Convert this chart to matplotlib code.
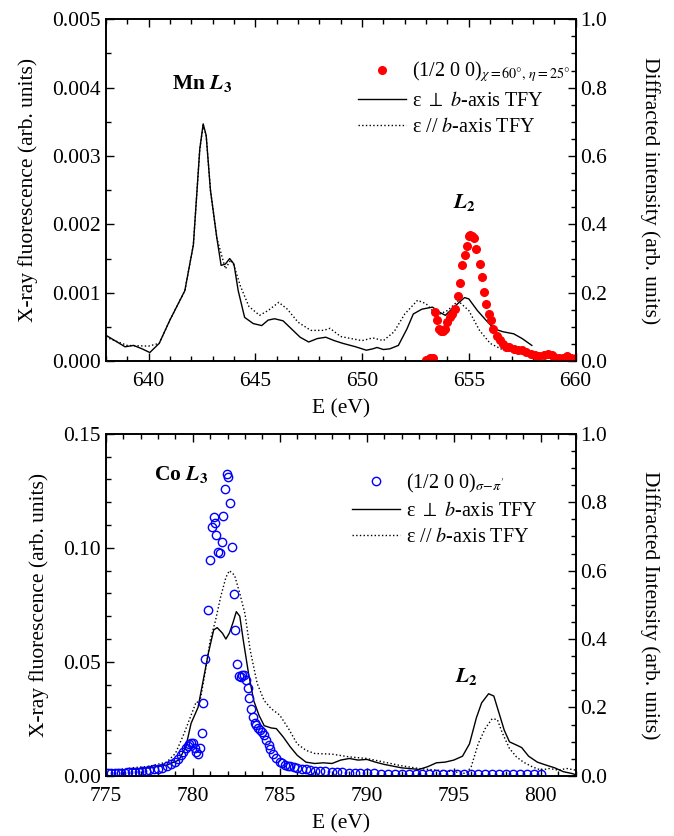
import numpy as np
import matplotlib
matplotlib.use('Agg')
import matplotlib.pyplot as plt
from matplotlib.ticker import MultipleLocator, FormatStrFormatter

plt.rcParams['font.family'] = ['Liberation Serif', 'DejaVu Serif']
plt.rcParams['mathtext.fontset'] = 'stix'
plt.rcParams['font.size'] = 15.5

# ---- Mn L edge (top panel) ----
mn_perp_e = [638.0, 638.9, 639.3, 639.7, 640.06, 640.5, 641.0, 641.7, 642.1, 642.4, 642.56, 642.7,
             642.9, 643.2, 643.4, 643.6, 643.8, 644.0, 644.2, 644.5, 644.9, 645.3, 645.6, 645.9,
             646.3, 646.7, 647.1, 647.5, 647.9, 648.3, 648.7, 649.1, 649.7, 650.2, 650.5, 650.7,
             651.0, 651.3, 651.7, 652.1, 652.4, 652.8, 653.3, 653.6, 653.9, 654.3, 654.8, 655.0,
             655.4, 655.8, 656.2, 656.6, 657.1, 657.5, 657.95]
mn_perp_i = [0.00038, 0.00021, 0.00023, 0.00018, 0.000126, 0.00026, 0.0006, 0.00103, 0.0017, 0.0031,
             0.00347, 0.0033, 0.0025, 0.0018, 0.0014, 0.00142, 0.0015, 0.00142, 0.00103, 0.00064,
             0.00055, 0.00052, 0.0006, 0.00062, 0.00059, 0.00047, 0.00035, 0.00028, 0.00033, 0.00035,
             0.0003, 0.00026, 0.00021, 0.00016, 0.00018, 0.0002, 0.00017, 0.00018, 0.00023, 0.00047,
             0.00069, 0.00076, 0.00079, 0.00072, 0.00067, 0.00079, 0.00093, 0.00091, 0.00074, 0.0006,
             0.00047, 0.00043, 0.0004, 0.00033, 0.00023]

mn_par_e = [638.0, 639.0, 640.0, 640.5, 641.0, 641.7, 642.1, 642.4, 642.56, 642.7, 642.9, 643.2,
            643.6, 643.85, 644.0, 644.3, 644.7, 645.2, 645.6, 646.1, 646.5, 647.0, 647.6, 648.2,
            648.5, 649.0, 650.0, 650.5, 651.0, 651.5, 652.0, 652.6, 653.0, 653.5, 654.0, 654.5,
            655.0, 655.5, 656.0, 656.5, 657.0]
mn_par_i = [0.00035, 0.00023, 0.00022, 0.00026, 0.0006, 0.00103, 0.0017, 0.0031, 0.00345, 0.0033,
            0.0025, 0.0018, 0.00135, 0.00148, 0.0014, 0.0011, 0.0008, 0.00067, 0.00074, 0.00086,
            0.00076, 0.00057, 0.00045, 0.00045, 0.00048, 0.00036, 0.0003, 0.00034, 0.0003, 0.00043,
            0.00069, 0.00089, 0.00084, 0.00067, 0.00074, 0.00088, 0.00074, 0.00045, 0.00026,
            0.00018, 0.00014]

mn_res_e = [653.0, 653.2, 653.3, 653.4, 653.5, 653.6, 653.7, 653.8, 653.9, 654.0, 654.1, 654.2,
            654.35, 654.5, 654.6, 654.7, 654.8, 654.9, 655.0, 655.05, 655.15, 655.25, 655.35,
            655.5, 655.6, 655.7, 655.8, 655.95, 656.05, 656.15, 656.3, 656.45, 656.6, 656.75,
            656.9, 657.1, 657.3, 657.5, 657.7, 657.9, 658.1, 658.3, 658.5, 658.7, 658.9, 659.0,
            659.2, 659.4, 659.6, 659.8, 660.0]
mn_res_i = [0.003, 0.008, 0.01, 0.143, 0.12, 0.095, 0.087, 0.088, 0.095, 0.114, 0.129, 0.138,
            0.153, 0.19, 0.23, 0.28, 0.31, 0.337, 0.366, 0.37, 0.366, 0.36, 0.327, 0.284, 0.245,
            0.203, 0.168, 0.138, 0.119, 0.095, 0.075, 0.061, 0.05, 0.042, 0.04, 0.037, 0.034,
            0.032, 0.027, 0.022, 0.017, 0.015, 0.017, 0.022, 0.017, 0.013, 0.008, 0.01, 0.015,
            0.01, 0.008]

# ---- Co L edge (bottom panel) ----
co_perp_e = [776.5, 777.5, 778.5, 779.2, 779.6, 779.9, 780.3, 780.6, 780.9, 781.2, 781.4, 781.7,
             781.9, 782.1, 782.3, 782.5, 782.7, 782.9, 783.2, 783.5, 783.8, 784.1, 784.5, 784.8,
             785.2, 785.6, 786.0, 786.5, 787.0, 787.5, 788.0, 788.5, 789.0, 789.5, 790.0, 790.5,
             791.0, 792.0, 793.0, 793.5, 794.0, 794.5, 795.0, 795.5, 795.9, 796.3, 796.6, 797.0,
             797.3, 797.6, 797.9, 798.2, 798.6, 798.9, 799.3, 799.8, 800.3, 800.8, 801.3, 801.8,
             802.0]
co_perp_i = [0.0028, 0.0035, 0.0047, 0.0069, 0.0127, 0.023, 0.030, 0.042, 0.054, 0.064, 0.065,
             0.0626, 0.060, 0.0626, 0.067, 0.072, 0.070, 0.0595, 0.045, 0.033, 0.0266, 0.022,
             0.021, 0.0207, 0.017, 0.0127, 0.009, 0.006, 0.0054, 0.0057, 0.0054, 0.0069, 0.0076,
             0.0069, 0.0072, 0.006, 0.005, 0.0035, 0.0028, 0.004, 0.0057, 0.006, 0.0069, 0.0086,
             0.014, 0.0255, 0.032, 0.036, 0.035, 0.0275, 0.020, 0.0149, 0.0135, 0.0124, 0.0086,
             0.006, 0.0047, 0.0035, 0.0018, 0.001, 0.0005]

co_par_e = [775.5, 776.5, 777.5, 778.5, 779.0, 779.5, 779.9, 780.2, 780.4, 780.7, 781.0, 781.3,
            781.6, 781.9, 782.1, 782.4, 782.7, 783.0, 783.3, 783.7, 784.1, 784.5, 785.0, 785.5,
            786.0, 786.5, 787.0, 788.0, 789.0, 790.0, 791.0, 792.0, 793.0, 794.0, 795.0, 795.7,
            796.0, 796.4, 796.8, 797.2, 797.5, 797.8, 798.2, 798.6, 799.0, 799.5, 800.0, 800.5,
            801.0, 801.5, 802.0]
co_par_i = [0.0025, 0.0035, 0.0042, 0.006, 0.0098, 0.0186, 0.0266, 0.0325, 0.032, 0.045, 0.0595,
            0.068, 0.0785, 0.087, 0.090, 0.088, 0.080, 0.071, 0.055, 0.0405, 0.033, 0.0295,
            0.0266, 0.0207, 0.014, 0.0112, 0.0098, 0.0095, 0.0083, 0.0076, 0.006, 0.0044, 0.0032,
            0.0025, 0.0018, 0.001, 0.004, 0.014, 0.0207, 0.025, 0.0247, 0.0186, 0.012, 0.0083,
            0.006, 0.004, 0.0025, 0.0032, 0.0025, 0.0032, 0.0025]

co_res_e = [775.1, 775.3, 775.5, 775.7, 775.9, 776.1, 776.3, 776.5, 776.7, 776.9, 777.1, 777.3,
            777.5, 777.75, 778.0, 778.25, 778.5, 778.75, 779.0, 779.15, 779.3, 779.45, 779.6,
            779.7, 779.8, 779.9, 780.0, 780.1, 780.2, 780.3, 780.4, 780.5, 780.6, 780.7, 780.9,
            781.0, 781.1, 781.2, 781.25, 781.35, 781.45, 781.55, 781.65, 781.75, 781.85, 781.95,
            782.05, 782.15, 782.25, 782.35, 782.45, 782.55, 782.65, 782.75, 782.85, 782.95,
            783.05, 783.15, 783.25, 783.35, 783.45, 783.55, 783.65, 783.75, 783.85, 783.95,
            784.1, 784.2, 784.35, 784.45, 784.6, 784.8, 785.0, 785.15, 785.3, 785.45, 785.6,
            785.8, 786.0, 786.25, 786.5, 786.75, 787.0, 787.3, 787.6, 788.0, 788.3, 788.6,
            789.0, 789.3, 789.6, 790.0, 790.4, 790.8, 791.2, 791.6, 792.0, 792.4, 792.8, 793.2,
            793.6, 794.0, 794.4, 794.8, 795.2, 795.6, 796.0, 796.4, 796.8, 797.2, 797.6, 798.0,
            798.4, 798.8, 799.2, 799.6, 800.0]
co_res_i = [0.008, 0.007, 0.009, 0.008, 0.008, 0.009, 0.010, 0.010, 0.011, 0.012, 0.013, 0.015,
            0.017, 0.019, 0.021, 0.024, 0.028, 0.034, 0.041, 0.050, 0.060, 0.070, 0.080, 0.088,
            0.094, 0.097, 0.096, 0.080, 0.070, 0.065, 0.080, 0.124, 0.213, 0.343, 0.484, 0.632,
            0.727, 0.757, 0.740, 0.703, 0.654, 0.651, 0.683, 0.760, 0.840, 0.882, 0.874, 0.797,
            0.668, 0.532, 0.425, 0.328, 0.291, 0.289, 0.294, 0.294, 0.281, 0.258, 0.228, 0.194,
            0.172, 0.155, 0.148, 0.141, 0.135, 0.129, 0.119, 0.104, 0.090, 0.077, 0.063, 0.051,
            0.041, 0.037, 0.033, 0.030, 0.028, 0.025, 0.023, 0.021, 0.019, 0.017, 0.015, 0.014,
            0.013, 0.012, 0.011, 0.010, 0.009, 0.009, 0.008, 0.007, 0.007, 0.006, 0.006, 0.006,
            0.005, 0.005, 0.005, 0.005, 0.005, 0.005, 0.005, 0.005, 0.005, 0.005, 0.005, 0.005,
            0.005, 0.006, 0.005, 0.005, 0.005, 0.005, 0.005, 0.005, 0.005]


def style_axes(ax, ax2, xmaj, xmin, ymaj, ymin):
    ax.xaxis.set_major_locator(MultipleLocator(xmaj))
    ax.xaxis.set_minor_locator(MultipleLocator(xmin))
    ax.yaxis.set_major_locator(MultipleLocator(ymaj))
    ax.yaxis.set_minor_locator(MultipleLocator(ymin))
    ax2.yaxis.set_major_locator(MultipleLocator(0.2))
    ax2.yaxis.set_minor_locator(MultipleLocator(0.05))
    ax.tick_params(which='both', direction='in', top=True, right=False, width=1.0, labelsize=15.5)
    ax.tick_params(axis='x', which='major', pad=8)
    ax.tick_params(which='major', length=6)
    ax.tick_params(which='minor', length=3.5)
    ax2.tick_params(which='both', direction='in', width=1.0, labelsize=15.5)
    ax2.tick_params(which='major', length=6)
    ax2.tick_params(which='minor', length=3.5)
    for a in (ax, ax2):
        for s in a.spines.values():
            s.set_linewidth(1.2)


fig = plt.figure(figsize=(6.74, 8.36), dpi=100)

# top panel
ax1 = fig.add_axes([0.157, 0.568, 0.697, 0.409])
ax1r = ax1.twinx()
l1, = ax1.plot(mn_perp_e, mn_perp_i, 'k-', lw=1.0, label=r'ε $\perp$ $b$-axis TFY')
l2, = ax1.plot(mn_par_e, mn_par_i, 'k:', lw=1.0, label=r'ε // $b$-axis TFY')
p1, = ax1r.plot(mn_res_e, mn_res_i, 'o', color='red', ms=5.5, mec='red',
                label=r'(1/2 0 0)$_{\chi{=}60°,\,\eta{=}25°}$')
ax1.set_xlim(638, 660)
ax1.set_ylim(0, 0.005)
ax1r.set_ylim(0, 1.0)
style_axes(ax1, ax1r, 5, 1, 0.001, 0.0005)
ax1.yaxis.set_major_formatter(FormatStrFormatter('%.3f'))
ax1r.yaxis.set_major_formatter(FormatStrFormatter('%.1f'))
ax1.set_xlabel('E (eV)', fontsize=15.5, labelpad=6)
ax1.set_ylabel('X-ray fluorescence (arb. units)', fontsize=15.5, labelpad=10)
ax1r.set_ylabel('Diffracted intensity (arb. units)', fontsize=15.5, rotation=270, labelpad=38)
ax1.text(641.09, 0.00406, r'Mn $\mathbfit{L}_{\mathbf{3}}$', fontsize=15.5, fontweight='bold',
         va='center', ha='left')
ax1.text(654.24, 0.00232, r'$\mathbfit{L}_{\mathbf{2}}$', fontsize=15.5, va='center', ha='left')
ax1r.legend([p1, l1, l2], [p1.get_label(), l1.get_label(), l2.get_label()],
            loc='upper left', bbox_to_anchor=(0.536, 0.882), frameon=False, fontsize=14.5,
            borderpad=0, borderaxespad=0, handlelength=2.4, handletextpad=0.3,
            labelspacing=0.35)

# bottom panel
ax2 = fig.add_axes([0.157, 0.072, 0.697, 0.409])
ax2r = ax2.twinx()
m1, = ax2.plot(co_perp_e, co_perp_i, 'k-', lw=1.0, label=r'ε $\perp$ $b$-axis TFY')
m2, = ax2.plot(co_par_e, co_par_i, 'k:', lw=1.0, label=r'ε // $b$-axis TFY')
q1, = ax2r.plot(co_res_e, co_res_i, 'o', mfc='none', mec='blue', mew=1.0, ms=6,
                label=r'(1/2 0 0)$_{\sigma\!-\!\pi^{\prime}}$')
ax2.set_xlim(775, 802)
ax2.set_ylim(0, 0.15)
ax2r.set_ylim(0, 1.0)
style_axes(ax2, ax2r, 5, 1, 0.05, 0.01)
ax2.yaxis.set_major_formatter(FormatStrFormatter('%.2f'))
ax2r.yaxis.set_major_formatter(FormatStrFormatter('%.1f'))
ax2.set_xlabel('E (eV)', fontsize=15.5, labelpad=6)
ax2.set_ylabel('X-ray fluorescence (arb. units)', fontsize=15.5, labelpad=10)
ax2r.set_ylabel('Diffracted Intensity (arb. units)', fontsize=15.5, rotation=270, labelpad=38)
ax2.text(777.79, 0.132, r'Co $\mathbfit{L}_{\mathbf{3}}$', fontsize=15.5, fontweight='bold',
         va='center', ha='left')
ax2.text(795.05, 0.0434, r'$\mathbfit{L}_{\mathbf{2}}$', fontsize=15.5, va='center', ha='left')
ax2r.legend([q1, m1, m2], [q1.get_label(), m1.get_label(), m2.get_label()],
            loc='upper left', bbox_to_anchor=(0.523, 0.89), frameon=False, fontsize=14.5,
            borderpad=0, borderaxespad=0, handlelength=2.4, handletextpad=0.3,
            labelspacing=0.35)

fig.savefig('out.png', dpi=100)
